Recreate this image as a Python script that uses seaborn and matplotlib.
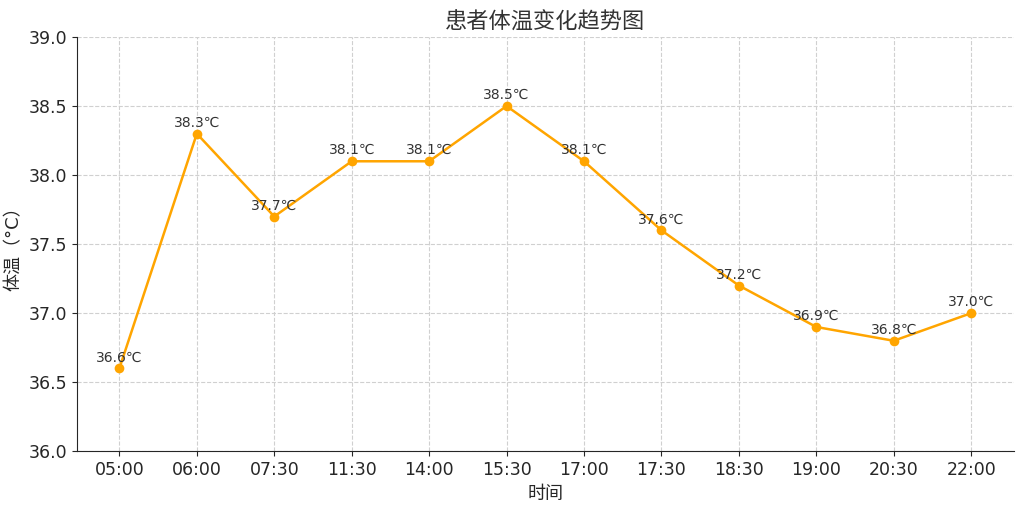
import pandas as pd
import numpy as np
import matplotlib.pyplot as plt
import seaborn as sns

# 数据
times = ['05:00', '06:00', '07:30', '11:30', '14:00', '15:30',
         '17:00', '17:30', '18:30', '19:00', '20:30', '22:00']
temps = [36.6, 38.3, 37.7, 38.1, 38.1, 38.5, 38.1, 37.6, 37.2, 36.9, 36.8, 37.0]

df = pd.DataFrame({'时间': times, '体温': temps})
df['pos'] = np.arange(len(df))

sns.set_style('ticks')
plt.rcParams['font.family'] = ['DejaVu Sans', 'Noto Sans CJK SC']

fig, ax = plt.subplots(figsize=(10.24, 5.07), dpi=100)
sns.lineplot(data=df, x='pos', y='体温', color='#FFA500', marker='o',
             markersize=7, markeredgewidth=0, linewidth=1.8, ax=ax)

for _, row in df.iterrows():
    ax.annotate(f"{row['体温']:.1f}℃", (row['pos'], row['体温']),
                textcoords='offset points', xytext=(0, 5), ha='center',
                fontsize=10, color='#333333')

ax.set_xticks(df['pos'])
ax.set_xticklabels(times)
ax.set_xlim(-0.55, len(df) - 0.45)
ax.set_ylim(36.0, 39.0)
ax.set_yticks(np.arange(36.0, 39.01, 0.5))
ax.set_yticklabels([f'{v:.1f}' for v in np.arange(36.0, 39.01, 0.5)])
ax.tick_params(labelsize=12.5)
ax.grid(True, linestyle='--', color='#d0d0d0', linewidth=0.8)
ax.set_title('患者体温变化趋势图', fontsize=16, color='#333333')
ax.set_xlabel('时间', fontsize=13)
ax.set_ylabel('体温（°C）', fontsize=13)
sns.despine(ax=ax)

plt.subplots_adjust(left=0.075, right=0.99, top=0.927, bottom=0.11)
plt.savefig('out.png', dpi=100)
